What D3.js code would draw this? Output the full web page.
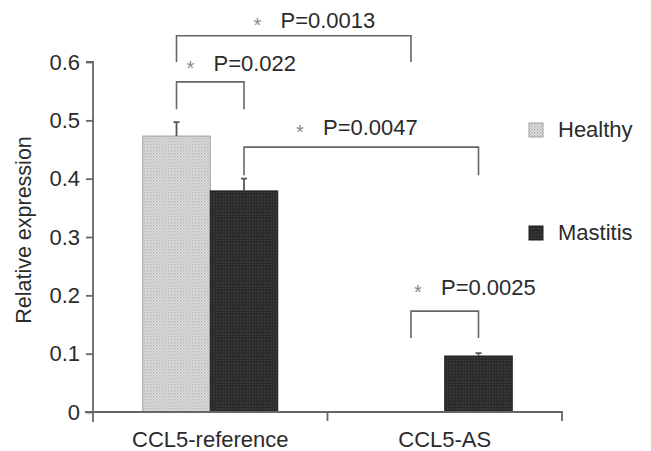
<!DOCTYPE html>
<html lang="en">
<head>
<meta charset="UTF-8">
<title>CCL5 expression</title>
<script src="https://cdnjs.cloudflare.com/ajax/libs/d3/7.8.5/d3.min.js"></script>
<style>
  body { margin: 0; background: #fff; }
  text { font-family: "Liberation Sans", Arial, sans-serif; fill: #2b2b2b; }
</style>
</head>
<body>
<div id="chart"></div>
<script>
    // data
    var categories = ["CCL5-reference", "CCL5-AS"];
    var groups = ["Healthy", "Mastitis"];
    var healthy = [0.473, 0];
    var mastitis = [0.379, 0.096];
    var healthyErr = [0.024, 0];
    var mastitisErr = [0.021, 0.005];
    var yTicks = [0, 0.1, 0.2, 0.3, 0.4, 0.5, 0.6];
    // comparisons: [category, group] -> [category, group], bracket levels in y units
    var comparisons = [
        {from: [0, 0], to: [0, 1], top: 0.566, low: 0.519, p: "P=0.022"},
        {from: [0, 0], to: [1, 0], top: 0.645, low: 0.600, p: "P=0.0013"},
        {from: [0, 1], to: [1, 1], top: 0.454, low: 0.406, p: "P=0.0047"},
        {from: [1, 0], to: [1, 1], top: 0.173, low: 0.127, p: "P=0.0025"}
    ];
    // where each p label sits: px right of the bracket's left end, baseline in y units
    var labelDx = [37, 104, 79, 30];
    var labelAt = [0.585, 0.658, 0.475, 0.201];

    var width = 651, height = 451;
    var margin = {left: 93, right: 89, top: 62, bottom: 39};
    var fs = 22;

    var svg = d3.select("#chart").append("svg")
        .attr("width", width)
        .attr("height", height);

    var defs = svg.append("defs");
    var pl = defs.append("pattern").attr("id", "lightDots")
        .attr("patternUnits", "userSpaceOnUse").attr("width", 3).attr("height", 3);
    pl.append("rect").attr("width", 3).attr("height", 3).attr("fill", "#e2e2e2");
    pl.append("rect").attr("width", 1.5).attr("height", 1.5).attr("fill", "#b4b4b4");
    pl.append("rect").attr("x", 1.5).attr("y", 1.5).attr("width", 1.5).attr("height", 1.5).attr("fill", "#c6c6c6");

    var pd = defs.append("pattern").attr("id", "darkDots")
        .attr("patternUnits", "userSpaceOnUse").attr("width", 3).attr("height", 3);
    pd.append("rect").attr("width", 3).attr("height", 3).attr("fill", "#2a2a2a");
    pd.append("rect").attr("width", 1.5).attr("height", 1.5).attr("fill", "#3e3e3e");

    var fills = ["url(#lightDots)", "url(#darkDots)"];
    var strokes = ["#a0a0a0", "#1e1e1e"];

    var x0 = d3.scaleBand().domain(categories)
        .range([margin.left, width - margin.right]).paddingInner(0).paddingOuter(0);
    var x1 = d3.scaleBand().domain(groups)
        .range([0, x0.bandwidth()]).paddingInner(0).paddingOuter(0.737);
    var y = d3.scaleLinear().domain([0, 0.6])
        .range([height - margin.bottom, margin.top]);

    var values = [healthy, mastitis];
    var errs = [healthyErr, mastitisErr];

    function barX(ci, gi) { return x0(categories[ci]) + x1(groups[gi]); }
    function barMid(ci, gi) { return barX(ci, gi) + x1.bandwidth() / 2; }

    // bars
    groups.forEach(function(g, gi) {
        var data = categories.map(function(c, ci) {
            return {ci: ci, v: values[gi][ci], e: errs[gi][ci]};
        }).filter(function(d) { return d.v > 0; });

        svg.selectAll(".bar-" + gi).data(data).enter().append("rect")
            .attr("x", function(d) { return barX(d.ci, gi); })
            .attr("y", function(d) { return y(d.v); })
            .attr("width", x1.bandwidth())
            .attr("height", function(d) { return y(0) - y(d.v); })
            .attr("fill", fills[gi])
            .attr("stroke", strokes[gi])
            .attr("stroke-width", 1);

        // error bars
        svg.selectAll(".err-" + gi).data(data).enter().append("path")
            .attr("d", function(d) {
                var cx = barMid(d.ci, gi);
                return "M" + cx + "," + y(d.v) + "V" + y(d.v + d.e) +
                    "M" + (cx - 3) + "," + y(d.v + d.e) + "H" + (cx + 3);
            })
            .attr("stroke", "#555").attr("stroke-width", 1.8).attr("fill", "none");
    });

    // y axis
    var yAxis = svg.append("g")
        .attr("transform", "translate(" + margin.left + ",0)")
        .call(d3.axisLeft(y).tickValues(yTicks)
            .tickFormat(function(d) { return d === 0 ? "0" : d3.format(".1f")(d); })
            .tickSize(7).tickPadding(6));
    yAxis.select(".domain").attr("stroke", "#666").attr("stroke-width", 1.8)
        .attr("d", "M-7," + y(0.6) + "H0V" + (y(0) + 10));
    yAxis.selectAll(".tick line").attr("stroke", "#666").attr("stroke-width", 1.8);
    yAxis.selectAll("text").attr("font-size", fs)
        .style("font-family", "'Liberation Sans', Arial, sans-serif").attr("fill", "#2b2b2b");

    // x axis
    var xAxis = svg.append("g")
        .attr("transform", "translate(0," + y(0) + ")")
        .call(d3.axisBottom(x0).tickSize(0).tickPadding(19));
    xAxis.select(".domain").attr("stroke", "#666").attr("stroke-width", 1.8)
        .attr("d", "M" + (margin.left - 8) + ",0H" + (width - margin.right) + "V9");
    xAxis.append("path")
        .attr("d", "M" + x0(categories[1]) + ",0V9")
        .attr("stroke", "#666").attr("stroke-width", 1.8);
    xAxis.selectAll("text").attr("font-size", fs)
        .style("font-family", "'Liberation Sans', Arial, sans-serif").attr("fill", "#2b2b2b");

    // y label
    svg.append("text")
        .attr("transform", "translate(31,230) rotate(-90)")
        .attr("text-anchor", "middle")
        .attr("font-size", 21.5)
        .text("Relative expression");

    // significance brackets
    comparisons.forEach(function(c, i) {
        var xa = barMid(c.from[0], c.from[1]);
        var xb = barMid(c.to[0], c.to[1]);
        svg.append("path")
            .attr("d", "M" + xa + "," + y(c.low) + "V" + y(c.top) + "H" + xb + "V" + y(c.low))
            .attr("fill", "none").attr("stroke", "#666").attr("stroke-width", 1.6);
        var tx = xa + labelDx[i];
        svg.append("text")
            .attr("x", tx - 23).attr("y", y(labelAt[i]) + 4)
            .attr("text-anchor", "middle")
            .attr("font-size", 20)
            .style("fill", "#8a8a8a")
            .text("*");
        svg.append("text")
            .attr("x", tx).attr("y", y(labelAt[i]))
            .attr("font-size", fs)
            .text(c.p);
    });

    // legend
    var legend = svg.append("g");
    var legendY = [130, 233];
    groups.forEach(function(g, gi) {
        legend.append("rect")
            .attr("x", 529).attr("y", legendY[gi] - 7)
            .attr("width", 14).attr("height", 14)
            .attr("fill", fills[gi]).attr("stroke", strokes[gi]);
        legend.append("text")
            .attr("x", 558).attr("y", legendY[gi] + 7)
            .attr("font-size", fs)
            .text(g);
    });
</script>
</body>
</html>
